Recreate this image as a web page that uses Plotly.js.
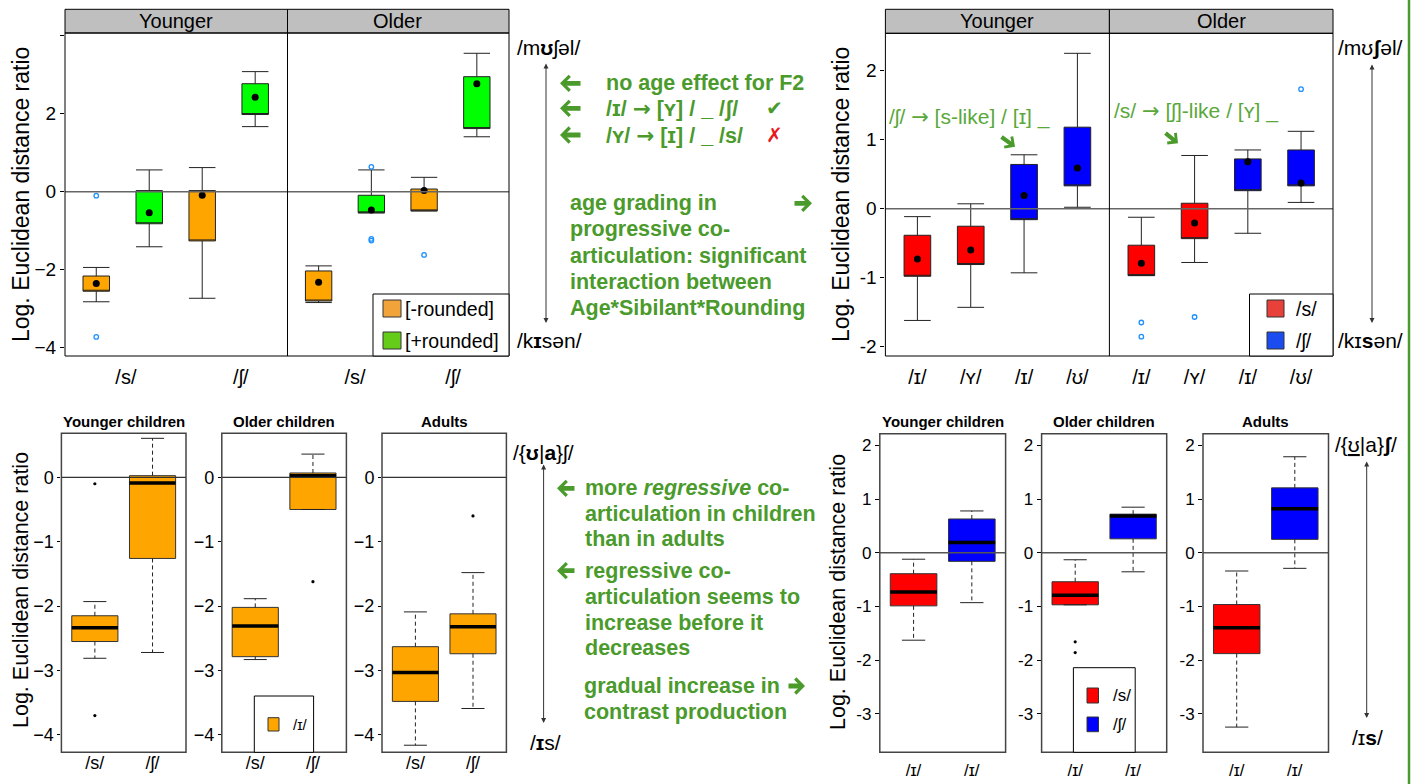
<!DOCTYPE html>
<html><head><meta charset="utf-8">
<script src="https://cdn.plot.ly/plotly-3.0.1.min.js"></script>
<style>html,body{margin:0;padding:0;background:#fff}#chart{width:1413px;height:784px}</style>
</head><body><div id="chart"></div>
<script>
// ===================== DATA =====================
// Top-left: progressive co-articulation, order = [Younger /s/, Younger /ʃ/, Older /s/, Older /ʃ/]
const tlAges = ['Younger', 'Older'];
const tlSibilants = ['/s/', '/ʃ/'];
const tlRounding = ['[-rounded]', '[+rounded]'];
const unrQ1 = [-2.55, -1.26, -2.80, -0.49];
const unrQ3 = [-2.16, 0.03, -2.03, 0.07];
const unrLo = [-2.82, -2.73, -2.84, -0.49];
const unrHi = [-1.94, 0.62, -1.90, 0.37];
const unrMed = [-2.35, -0.09, -2.32, 0.03];
const unrOutGroup = [0, 0, 3];
const unrOutVal = [-0.10, -3.72, -1.62];
const rndQ1 = [-0.82, 1.98, -0.54, 1.62];
const rndQ3 = [0.03, 2.77, -0.09, 2.95];
const rndLo = [-1.41, 1.67, -0.54, 1.41];
const rndHi = [0.56, 3.08, 0.56, 3.55];
const rndMed = [-0.54, 2.42, -0.47, 2.77];
const rndOutGroup = [2, 2, 2];
const rndOutVal = [0.64, -1.21, -1.25];

// Top-right: order = [Younger v1, Younger v2, Older v1, Older v2]
const trVowels = ['/ɪ/', '/ʏ/', '/ɪ/', '/ʊ/'];
const trSibilants = ['/s/', '/ʃ/'];
const sQ1 = [-0.98, -0.81, -0.97, -0.435];
const sQ3 = [-0.386, -0.255, -0.53, 0.078];
const sLo = [-1.62, -1.43, -0.97, -0.78];
const sHi = [-0.116, 0.07, -0.125, 0.77];
const sMed = [-0.73, -0.60, -0.79, -0.21];
const sOutGroup = [2, 2, 3];
const sOutVal = [-1.65, -1.855, -1.57];
const shQ1 = [-0.16, 0.33, 0.26, 0.33];
const shQ3 = [0.64, 1.18, 0.72, 0.85];
const shLo = [-0.93, 0.02, -0.357, 0.09];
const shHi = [0.78, 2.25, 0.85, 1.12];
const shMed = [0.19, 0.59, 0.68, 0.37];
const shOutGroup = [3];
const shOutVal = [1.73];

// Bottom-left: regressive co-articulation (/ɪ/), order = [Younger children, Older children, Adults]
const blGroups = ['Younger children', 'Older children', 'Adults'];
const blCats = ['/s/', '/ʃ/'];
const blSQ1 = [-2.55, -2.785, -3.48];
const blSMed = [-2.335, -2.31, -3.03];
const blSQ3 = [-2.15, -2.02, -2.63];
const blSLo = [-2.81, -2.83, -4.16];
const blSHi = [-1.93, -1.885, -2.09];
const blSOutGroup = [0, 0];
const blSOutVal = [-0.10, -3.70];
const blShQ1 = [-1.26, -0.50, -2.74];
const blShMed = [-0.09, 0.025, -2.32];
const blShQ3 = [0.025, 0.067, -2.12];
const blShLo = [-2.72, -0.50, -3.59];
const blShHi = [0.605, 0.36, -1.48];
const blShOutGroup = [1, 2];
const blShOutVal = [-1.62, -0.60];

// Bottom-right: order = [Younger children, Older children, Adults]
const brCats = ['/ɪ/', '/ɪ/'];
const brSQ1 = [-0.99, -0.97, -1.88];
const brSMed = [-0.73, -0.79, -1.40];
const brSQ3 = [-0.39, -0.54, -0.965];
const brSLo = [-1.63, -0.97, -3.25];
const brSHi = [-0.12, -0.13, -0.34];
const brSOutGroup = [1, 1];
const brSOutVal = [-1.66, -1.86];
const brShQ1 = [-0.16, 0.26, 0.25];
const brShMed = [0.19, 0.685, 0.82];
const brShQ3 = [0.63, 0.72, 1.21];
const brShLo = [-0.93, -0.355, -0.29];
const brShHi = [0.78, 0.85, 1.79];

// ===================== HELPERS =====================
const W = 1413, H = 784;
const fx = p => p / W;
const fy = p => 1 - p / H;
const FONT = 'Liberation Sans, Arial, Helvetica, sans-serif';
const GREEN = '#4a9a2c';
const ORANGE = '#FFA500', LIME = '#00FF00', RED = '#FF0000', BLUE = '#0000FF';
const ARR = '<span style="font-family:DejaVu Sans">→</span>';

const traces = [];
const shapes = [];
const ann = [];

function boxT(xa, ya, xs, q1, med, q3, lo, hi, fill, width, ww, lineColor) {
  traces.push({type: 'box', xaxis: xa, yaxis: ya, x: xs, q1: q1, median: med, q3: q3,
    lowerfence: lo, upperfence: hi, width: width, whiskerwidth: ww, fillcolor: fill,
    line: {color: lineColor, width: 1}, boxpoints: false, hoverinfo: 'skip', showlegend: false});
}
function ptsT(xa, ya, xs, ys, marker) {
  traces.push({type: 'scatter', mode: 'markers', xaxis: xa, yaxis: ya, x: xs, y: ys,
    marker: marker, hoverinfo: 'skip', showlegend: false, cliponaxis: false});
}
function linesT(xa, ya, xs, ys, line) {
  traces.push({type: 'scatter', mode: 'lines', xaxis: xa, yaxis: ya, x: xs, y: ys,
    line: line, hoverinfo: 'skip', showlegend: false, connectgaps: false});
}
function pick(arr, idx) { return idx.map(i => arr[i]); }
const NEG = v => (v < 0 ? '\u2212' + Math.abs(v) : String(v));

// ===================== TOP-LEFT =====================
const tlX = ['x', 'x2'];
[0, 1].forEach(a => {
  const idx = [2 * a, 2 * a + 1];
  const posU = idx.map(i => 1 + 2 * (i % 2));
  const posR = idx.map(i => 2 + 2 * (i % 2));
  // box (median shown as a dot, not a line -> median line hidden on box edge)
  boxT(tlX[a], 'y', posU, pick(unrQ1, idx), pick(unrQ1, idx), pick(unrQ3, idx), pick(unrLo, idx), pick(unrHi, idx), ORANGE, 0.5, 1, '#222');
  boxT(tlX[a], 'y', posR, pick(rndQ1, idx), pick(rndQ1, idx), pick(rndQ3, idx), pick(rndLo, idx), pick(rndHi, idx), LIME, 0.5, 1, '#222');
  ptsT(tlX[a], 'y', posU.concat(posR), pick(unrMed, idx).concat(pick(rndMed, idx)), {color: '#000', size: 7});
});
[[unrOutGroup, unrOutVal, 1], [rndOutGroup, rndOutVal, 2]].forEach(([g, v, base]) => {
  [0, 1].forEach(a => {
    const k = g.map((gi, j) => j).filter(j => Math.floor(g[j] / 2) === a);
    if (!k.length) return;
    ptsT(tlX[a], 'y', k.map(j => base + 2 * (g[j] % 2)), k.map(j => v[j]),
      {symbol: 'circle-open', color: '#1E90FF', size: 4.5, line: {width: 1.3}});
  });
});

// ===================== TOP-RIGHT =====================
const trX = ['x3', 'x4'];
[0, 1].forEach(a => {
  const idx = [2 * a, 2 * a + 1];
  const posS = idx.map(i => 1 + (i % 2));
  const posSh = idx.map(i => 3 + (i % 2));
  boxT(trX[a], 'y2', posS, pick(sQ1, idx), pick(sQ1, idx), pick(sQ3, idx), pick(sLo, idx), pick(sHi, idx), RED, 0.5, 1, '#222');
  boxT(trX[a], 'y2', posSh, pick(shQ1, idx), pick(shQ1, idx), pick(shQ3, idx), pick(shLo, idx), pick(shHi, idx), BLUE, 0.5, 1, '#222');
  ptsT(trX[a], 'y2', posS.concat(posSh), pick(sMed, idx).concat(pick(shMed, idx)), {color: '#000', size: 7});
});
[[sOutGroup, sOutVal, 1], [shOutGroup, shOutVal, 3]].forEach(([g, v, base]) => {
  [0, 1].forEach(a => {
    const k = g.map((gi, j) => j).filter(j => Math.floor(g[j] / 2) === a);
    if (!k.length) return;
    ptsT(trX[a], 'y2', k.map(j => base + (g[j] % 2)), k.map(j => v[j]),
      {symbol: 'circle-open', color: '#1E90FF', size: 4.5, line: {width: 1.3}});
  });
});

// ===================== BOTTOM (R boxplot style) =====================
function rBoxes(xa, ya, pos, q1, med, q3, lo, hi, fill, outs) {
  const wx = [], wy = [], cx = [], cy = [];
  pos.forEach((p, i) => {
    wx.push(p, p, null, p, p, null); wy.push(q3[i], hi[i], null, q1[i], lo[i], null);
    cx.push(p - 0.2, p + 0.2, null, p - 0.2, p + 0.2, null); cy.push(hi[i], hi[i], null, lo[i], lo[i], null);
  });
  linesT(xa, ya, wx, wy, {color: '#222', width: 1, dash: '4px,3px'});
  linesT(xa, ya, cx, cy, {color: '#222', width: 1});
  boxT(xa, ya, pos, q1, med, q3, q1, q3, fill, 0.8, 0, '#333');
  const mx = [], my = [];
  pos.forEach((p, i) => { mx.push(p - 0.4, p + 0.4, null); my.push(med[i], med[i], null); });
  linesT(xa, ya, mx, my, {color: '#000', width: 3.5});
  if (outs && outs[0].length) ptsT(xa, ya, outs[0], outs[1], {color: '#000', size: 3.2});
}
const blX = ['x5', 'x6', 'x7'], blY = ['y3', 'y4', 'y5'];
const brX = ['x8', 'x9', 'x10'], brY = ['y6', 'y7', 'y8'];
[0, 1, 2].forEach(g => {
  const oS = blSOutGroup.map((q, j) => j).filter(j => blSOutGroup[j] === g);
  const oSh = blShOutGroup.map((q, j) => j).filter(j => blShOutGroup[j] === g);
  rBoxes(blX[g], blY[g], [1, 2], [blSQ1[g], blShQ1[g]], [blSMed[g], blShMed[g]], [blSQ3[g], blShQ3[g]],
    [blSLo[g], blShLo[g]], [blSHi[g], blShHi[g]], ORANGE,
    [oS.map(() => 1).concat(oSh.map(() => 2)), oS.map(j => blSOutVal[j]).concat(oSh.map(j => blShOutVal[j]))]);
  const rS = brSOutGroup.map((q, j) => j).filter(j => brSOutGroup[j] === g);
  rBoxes(brX[g], brY[g], [1], [brSQ1[g]], [brSMed[g]], [brSQ3[g]], [brSLo[g]], [brSHi[g]], RED,
    [rS.map(() => 1), rS.map(j => brSOutVal[j])]);
  rBoxes(brX[g], brY[g], [2], [brShQ1[g]], [brShMed[g]], [brShQ3[g]], [brShLo[g]], [brShHi[g]], BLUE, null);
});

// ===================== AXES =====================
const layout = {
  width: W, height: H, margin: {l: 0, r: 0, t: 0, b: 0}, paper_bgcolor: '#fff', plot_bgcolor: 'rgba(0,0,0,0)',
  showlegend: false, font: {family: FONT, color: '#000'}, shapes: shapes, annotations: ann
};
const baseX = {showgrid: false, zeroline: false, showline: false, fixedrange: true, ticks: 'outside', ticklen: 3,
  tickcolor: 'rgba(0,0,0,0)'};
const baseY = {showgrid: false, zeroline: false, showline: false, fixedrange: true, ticks: 'outside', ticklen: 4,
  tickcolor: '#000', tickwidth: 1};
function ax(name, o) { layout[name] = Object.assign({}, name.startsWith('x') ? baseX : baseY, o); }

const tlTicks = [-4, -2, 0, 2, 4];
const trTicks = [-2, -1, 0, 1, 2];
const blTicks = [-4, -3, -2, -1, 0];
const brTicks = [-3, -2, -1, 0, 1, 2];
ax('xaxis', {domain: [fx(65), fx(287.5)], range: [0.41, 4.61], anchor: 'y', tickvals: [1.56, 3.73], ticktext: tlSibilants, tickfont: {size: 20}});
ax('xaxis2', {domain: [fx(287.5), fx(509)], range: [0.41, 4.61], anchor: 'y', tickvals: [1.69, 3.55], ticktext: tlSibilants, tickfont: {size: 20}});
ax('yaxis', {domain: [fy(356), fy(33)], range: [-4.21, 4.07], anchor: 'x', tickvals: tlTicks, ticktext: tlTicks.map(v => v === 4 ? '' : NEG(v)), tickfont: {size: 19}});
ax('yaxis9', {overlaying: 'y', anchor: 'free', position: fx(509), side: 'right', range: [-4.21, 4.07], tickvals: tlTicks, showticklabels: false});
ax('xaxis3', {domain: [fx(885.4), fx(1109.4)], range: [0.4, 4.6], anchor: 'y2', tickvals: [1, 2, 3, 4], ticktext: trVowels, tickfont: {size: 20}});
ax('xaxis4', {domain: [fx(1109.4), fx(1333)], range: [0.4, 4.6], anchor: 'y2', tickvals: [1, 2, 3, 4], ticktext: trVowels, tickfont: {size: 20}});
ax('yaxis2', {domain: [fy(356), fy(33.3)], range: [-2.135, 2.54], anchor: 'x3', tickvals: trTicks, ticktext: trTicks.map(String), tickfont: {size: 19}});
ax('yaxis10', {overlaying: 'y2', anchor: 'free', position: fx(1333), side: 'right', range: [-2.135, 2.54], tickvals: trTicks, showticklabels: false});
const blDom = [[61.4, 186], [221.8, 346.4], [382, 506.4]];
const brDom = [[879.8, 1005.6], [1041.6, 1166.7], [1203, 1328.5]];
[0, 1, 2].forEach(g => {
  ax('xaxis' + (5 + g), {domain: [fx(blDom[g][0]), fx(blDom[g][1])], range: [0.42, 2.58], anchor: blY[g], tickvals: [1, 2], ticktext: blCats, tickfont: {size: 18}, ticks: '', ticklabelstandoff: -2});
  ax('yaxis' + (3 + g), {domain: [fy(752.3), fy(433.3)], range: [-4.27, 0.683], anchor: blX[g], tickvals: blTicks, ticktext: blTicks.map(NEG), tickfont: {size: 18}, ticklen: 3});
  ax('xaxis' + (8 + g), {domain: [fx(brDom[g][0]), fx(brDom[g][1])], range: [0.42, 2.58], anchor: brY[g], tickvals: [1, 2], ticktext: brCats, tickfont: {size: 17}, ticklen: 2});
  ax('yaxis' + (6 + g), {domain: [fy(752.3), fy(433.7)], range: [-3.72, 2.22], anchor: brX[g], tickvals: brTicks, ticktext: brTicks.map(String), tickfont: {size: 17}, ticklen: 4});
});

// ===================== FRAMES / REFERENCE LINES =====================
function rectP(x0, y0, x1, y1, o) {
  shapes.push(Object.assign({type: 'rect', xref: 'paper', yref: 'paper', x0: fx(x0), x1: fx(x1), y0: fy(y1), y1: fy(y0),
    line: {color: '#000', width: 1}, fillcolor: 'rgba(0,0,0,0)', layer: 'above'}, o || {}));
}
function lineP(x0, y0, x1, y1, o) {
  shapes.push(Object.assign({type: 'line', xref: 'paper', yref: 'paper', x0: fx(x0), x1: fx(x1), y0: fy(y0), y1: fy(y1),
    line: {color: '#000', width: 1}, layer: 'above'}, o || {}));
}
function zeroLine(x0, x1, yref, color, w) {
  shapes.push({type: 'line', xref: 'paper', yref: yref, x0: fx(x0), x1: fx(x1), y0: 0, y1: 0, line: {color: color, width: w}, layer: 'above'});
}
rectP(65, 9.3, 287.5, 33, {fillcolor: '#BFBFBF', layer: 'below'});
rectP(287.5, 9.3, 509, 33, {fillcolor: '#BFBFBF', layer: 'below'});
zeroLine(65, 509, 'y', '#666', 1.5);
rectP(65, 33, 509, 356);
lineP(287.5, 33, 287.5, 356);
rectP(885.4, 9.3, 1109.4, 33.3, {fillcolor: '#BFBFBF', layer: 'below'});
rectP(1109.4, 9.3, 1333, 33.3, {fillcolor: '#BFBFBF', layer: 'below'});
zeroLine(885.4, 1333, 'y2', '#666', 1.5);
rectP(885.4, 33.3, 1333, 356);
lineP(1109.4, 33.3, 1109.4, 356);
[0, 1, 2].forEach(g => {
  zeroLine(blDom[g][0], blDom[g][1], blY[g], '#333', 1.2);
  rectP(blDom[g][0], 433.3, blDom[g][1], 752.3, {line: {color: '#444', width: 1.5}});
  zeroLine(brDom[g][0], brDom[g][1], brY[g], '#555', 1.5);
  rectP(brDom[g][0], 433.7, brDom[g][1], 752.3, {line: {color: '#444', width: 1.5}});
});
lineP(1409, 0, 1409, 784, {line: {color: GREEN, width: 2.5}});

// ===================== LEGENDS =====================
function legendBox(x0, y0, x1, y1, items, fs) {
  rectP(x0, y0, x1, y1, {fillcolor: '#fff', layer: 'above'});
  items.forEach(it => {
    rectP(it.sx0, it.sy0, it.sx1, it.sy1, {fillcolor: it.color, line: {color: '#333', width: 1}});
    ann.push({xref: 'paper', yref: 'paper', x: fx(it.tx), y: fy((it.sy0 + it.sy1) / 2), text: it.label, showarrow: false,
      xanchor: 'left', yanchor: 'middle', font: {size: fs, family: FONT, color: '#000'}});
  });
}
legendBox(373, 294, 509, 356, [
  {sx0: 383, sy0: 300, sx1: 401, sy1: 317, color: '#F2A43A', label: tlRounding[0], tx: 403},
  {sx0: 383, sy0: 332, sx1: 401, sy1: 349, color: '#66CC1A', label: tlRounding[1], tx: 403}], 19.5);
legendBox(1249.5, 294, 1333, 356, [
  {sx0: 1267, sy0: 300, sx1: 1284, sy1: 317, color: '#E8413A', label: trSibilants[0], tx: 1294},
  {sx0: 1267, sy0: 332, sx1: 1284, sy1: 349, color: '#1A4CF0', label: trSibilants[1], tx: 1294}], 19.5);
legendBox(254.3, 696, 313.6, 752.3, [
  {sx0: 268, sy0: 717.7, sx1: 279, sy1: 731, color: ORANGE, label: '/ɪ/', tx: 291}], 15);
legendBox(1073.4, 667.7, 1135.2, 752.3, [
  {sx0: 1087, sy0: 688, sx1: 1098.5, sy1: 703, color: RED, label: trSibilants[0], tx: 1111},
  {sx0: 1087, sy0: 717, sx1: 1098.5, sy1: 731.7, color: BLUE, label: trSibilants[1], tx: 1111}], 17);

// ===================== TEXT =====================
function txt(x, y, text, o) {
  ann.push(Object.assign({xref: 'paper', yref: 'paper', x: fx(x), y: fy(y), text: text, showarrow: false,
    xanchor: 'center', yanchor: 'middle', font: {size: 20, family: FONT, color: '#000'}}, o || {}));
}
function arrowP(xTip, yTip, xTail, yTail, o) {
  ann.push(Object.assign({xref: 'paper', yref: 'paper', x: fx(xTip), y: fy(yTip), ax: xTail - xTip, ay: yTail - yTip,
    text: '', showarrow: true, arrowhead: 4, arrowsize: 0.6, arrowwidth: 4.8, arrowcolor: GREEN, standoff: 0, startstandoff: 0}, o || {}));
}
const YL = 'Log. Euclidean distance ratio';
txt(21, 195, YL, {textangle: -90, font: {size: 23, family: FONT, color: '#000'}});
txt(841, 195, YL, {textangle: -90, font: {size: 23, family: FONT, color: '#000'}});
txt(21, 590, YL, {textangle: -90, font: {size: 21.5, family: FONT, color: '#000'}});
txt(838, 592, YL, {textangle: -90, font: {size: 21.5, family: FONT, color: '#000'}});
txt(176, 21.5, tlAges[0]); txt(398, 21.5, tlAges[1]);
txt(997.4, 21.5, tlAges[0]); txt(1221.2, 21.5, tlAges[1]);
const tb = {font: {size: 15, family: FONT, color: '#000'}};
[0, 1, 2].forEach(g => {
  txt((blDom[g][0] + blDom[g][1]) / 2, 422, '<b>' + blGroups[g] + '</b>', tb);
  txt((brDom[g][0] + brDom[g][1]) / 2, 422, '<b>' + blGroups[g] + '</b>', tb);
});
const lft = {xanchor: 'left', font: {size: 21, family: FONT, color: '#000'}};
txt(515, 47, '/m<b>ʊ</b>ʃəl/', lft);
txt(515, 340, '/k<b>ɪ</b>sən/', lft);
txt(1336, 48, '/mʊ<b>ʃ</b>əl/', lft);
txt(1336, 340, '/kɪ<b>s</b>ən/', lft);
txt(511, 452, '/{<b>ʊ</b>|<b>a</b>}ʃ/', lft);
txt(528, 742, '/<b>ɪ</b>s/', lft);
txt(1333, 445, '/{<u>ʊ</u>|a}<b>ʃ</b>/', lft);
txt(1350, 737, '/ɪ<b>s</b>/', lft);
function dbl(x, y0, y1) {
  ann.push({xref: 'paper', yref: 'paper', x: fx(x), y: fy(y1), ax: 0, ay: y0 - y1, text: '', showarrow: true,
    arrowhead: 2, arrowside: 'end+start', arrowsize: 1, arrowwidth: 1, arrowcolor: '#333', standoff: 0, startstandoff: 0});
}
dbl(546, 62, 323); dbl(1372, 63, 323); dbl(543.6, 463, 723); dbl(1366.7, 460, 718);

const gb = {xanchor: 'left', font: {size: 21.5, family: FONT, color: GREEN}};
txt(604, 83.3, '<b>no age effect for F2</b>', gb);
txt(604, 108.3, '<b>/ɪ/ ' + ARR + ' [ʏ] / _ /ʃ/</b>', gb);
txt(604, 135, '<b>/ʏ/ ' + ARR + ' [ɪ] / _ /s/</b>', gb);
txt(774, 108.3, '✔', {font: {size: 20, family: 'DejaVu Sans', color: GREEN}});
txt(774, 135, '✗', {font: {size: 20, family: 'DejaVu Sans', color: '#E8191C'}});
arrowP(560, 83.3, 582, 83.3); arrowP(560, 108.3, 582, 108.3); arrowP(560, 135, 582, 135);
['age grading in', 'progressive co-', 'articulation: significant', 'interaction between', 'Age*Sibilant*Rounding']
  .forEach((s, i) => txt(568, 203.3 + i * 26.1, '<b>' + s + '</b>', gb));
arrowP(812, 203.3, 793, 203.3);
['more <i>regressive</i> co-', 'articulation in children', 'than in adults']
  .forEach((s, i) => txt(583, 488.3 + i * 25.5, '<b>' + s + '</b>', gb));
['regressive co-', 'articulation seems to', 'increase before it', 'decreases']
  .forEach((s, i) => txt(583, 570.7 + i * 25.9, '<b>' + s + '</b>', gb));
['gradual increase in', 'contrast production'].forEach((s, i) => txt(581.7, 686 + i * 25.7, '<b>' + s + '</b>', gb));
arrowP(557, 488.3, 576, 488.3); arrowP(557, 570.7, 576, 570.7); arrowP(805, 686, 787, 686);
const gn = {xanchor: 'left', font: {size: 21, family: FONT, color: '#5AA83A'}};
txt(887, 116.7, '/ʃ/ ' + ARR + ' [s-like] / [ɪ] _', gn);
txt(1112, 111, '/s/ ' + ARR + ' [ʃ]-like / [ʏ] _', gn);
arrowP(1015, 146.7, 1000, 136, {arrowwidth: 4.2, arrowsize: 0.6});
arrowP(1178, 143.3, 1164, 132, {arrowwidth: 4.2, arrowsize: 0.6});

Plotly.newPlot('chart', traces, layout, {staticPlot: true});
</script></body></html>
